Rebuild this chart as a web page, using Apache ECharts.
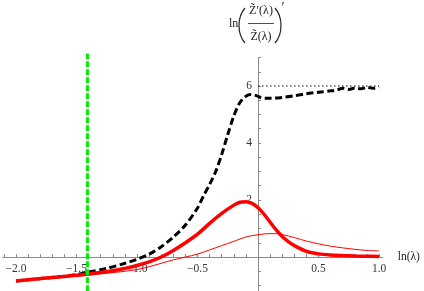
<!DOCTYPE html>
<html>
<head>
<meta charset="utf-8">
<script src="https://cdn.jsdelivr.net/npm/echarts@6/dist/echarts.min.js"></script>
<style>html,body{margin:0;padding:0;background:#fff;}#c{width:424px;height:291px;}</style>
</head>
<body>
<div id="c"></div>
<script>
// ---- data ----
var redX = [-2, -1.75, -1.5, -1.25, -1.1, -1.0, -0.9, -0.8, -0.7, -0.6, -0.5, -0.4, -0.3, -0.2, -0.15, -0.1, -0.05, 0, 0.05, 0.1, 0.15, 0.2, 0.25, 0.3, 0.4, 0.5, 0.6, 0.7, 0.8, 0.9, 1.0];
var redThickY = [-0.84, -0.74, -0.64, -0.52, -0.4, -0.3, -0.17, 0.0, 0.23, 0.5, 0.8, 1.18, 1.53, 1.82, 1.92, 1.94, 1.88, 1.73, 1.5, 1.22, 0.95, 0.72, 0.54, 0.4, 0.2, 0.11, 0.07, 0.05, 0.035, 0.025, 0.02];
var redThinY = [-0.84, -0.76, -0.67, -0.57, -0.5, -0.44, -0.34, -0.22, -0.1, 0.0, 0.1, 0.25, 0.4, 0.55, 0.63, 0.7, 0.75, 0.78, 0.81, 0.82, 0.82, 0.79, 0.74, 0.68, 0.56, 0.46, 0.38, 0.32, 0.27, 0.23, 0.21];
var blackX = [-2, -1.75, -1.5, -1.4, -1.25, -1.1, -1.0, -0.9, -0.8, -0.7, -0.6, -0.5, -0.45, -0.4, -0.35, -0.3, -0.25, -0.2, -0.15, -0.1, -0.06, -0.02, 0.02, 0.06, 0.1, 0.2, 0.3, 0.4, 0.5, 0.6, 0.65, 0.7, 0.75, 0.8, 0.85, 0.9, 0.95, 1.0];
var blackY = [-0.84, -0.74, -0.62, -0.53, -0.4, -0.22, -0.08, 0.1, 0.36, 0.7, 1.12, 1.72, 2.15, 2.55, 3.0, 3.6, 4.3, 4.95, 5.42, 5.64, 5.7, 5.67, 5.6, 5.57, 5.57, 5.6, 5.66, 5.73, 5.78, 5.83, 5.86, 5.92, 5.88, 5.93, 5.9, 5.95, 5.92, 5.96];
var asymptoteX = [0, 1.0];
var asymptoteY = [6, 6];
var markerX = [-1.41, -1.41];
var markerY = [-1.2, 7.14];
var xTickLabels = [-2.0, -1.5, -1.0, -0.5, 0.5, 1.0];
var yTickLabels = [2, 4, 6];

function pairs(xs, ys) { return xs.map(function (x, i) { return [x, ys[i]]; }); }
var xMinorTicks = []; for (var k = -21; k <= 10; k++) xMinorTicks.push(k / 10);
var yMinorTicks = []; for (var j = -2; j <= 14; j++) yMinorTicks.push(j / 2);

var X_MIN = -2.11, X_MAX = 1.03, Y_MIN = -1.2, Y_MAX = 7;
var G_LEFT = 2.7, G_WIDTH = 380, G_TOP = 57.5, G_HEIGHT = 233.7;
// place axes through the origin using offsets (computed from the scale)
var xAxisOffset = -G_HEIGHT * (0 - Y_MIN) / (Y_MAX - Y_MIN);
var yAxisOffset = -G_WIDTH * (0 - X_MIN) / (X_MAX - X_MIN);

var serif = 'Liberation Serif';
var chart = echarts.init(document.getElementById('c'), null, { renderer: 'canvas' });
chart.setOption({
  animation: false,
  backgroundColor: '#fff',
  grid: { left: G_LEFT, width: G_WIDTH, top: G_TOP, height: G_HEIGHT, containLabel: false, outerBoundsMode: 'none' },
  xAxis: {
    type: 'value', min: X_MIN, max: X_MAX, position: 'bottom', offset: xAxisOffset,
    splitLine: { show: false },
    axisLine: { onZero: false, lineStyle: { color: '#8a8a8a', width: 1 } },
    axisTick: { inside: true, length: 3, lineStyle: { color: '#8a8a8a' }, customValues: xMinorTicks },
    axisLabel: { customValues: xTickLabels, margin: 6, color: '#333', fontFamily: serif, fontSize: 11.5,
      formatter: function (v) { return v.toFixed(1).replace('-', '\u2212'); } },
    name: 'ln(\u03bb)', nameLocation: 'end', nameGap: 15,
    nameTextStyle: { color: '#222', fontFamily: serif, fontSize: 11.5, verticalAlign: 'middle' }
  },
  yAxis: {
    type: 'value', min: Y_MIN, max: Y_MAX, position: 'left', offset: yAxisOffset,
    splitLine: { show: false },
    axisLine: { onZero: false, lineStyle: { color: '#8a8a8a', width: 1 } },
    axisTick: { inside: true, length: 3, lineStyle: { color: '#8a8a8a' }, customValues: yMinorTicks },
    axisLabel: { customValues: yTickLabels, margin: 6, color: '#333', fontFamily: serif, fontSize: 11.5 }
  },
  graphic: [
    { type: 'text', left: 229, top: 18, style: { text: 'ln', font: '12px "Liberation Serif"', fill: '#222' } },
    { type: 'bezierCurve', shape: { x1: 245, y1: 8, x2: 245, y2: 43, cpx1: 237, cpy1: 17, cpx2: 237, cpy2: 34 }, style: { stroke: '#222', lineWidth: 1.2, fill: null } },
    { type: 'bezierCurve', shape: { x1: 275, y1: 8, x2: 275, y2: 43, cpx1: 283, cpy1: 17, cpx2: 283, cpy2: 34 }, style: { stroke: '#222', lineWidth: 1.2, fill: null } },
    { type: 'text', x: 261, y: 11, style: { text: 'Z\u0303\u2032(\u03bb)', font: '12px "Liberation Serif"', fill: '#222', align: 'center', verticalAlign: 'middle' } },
    { type: 'line', shape: { x1: 248, y1: 23.5, x2: 274, y2: 23.5 }, style: { stroke: '#222', lineWidth: 0.8 } },
    { type: 'text', x: 261, y: 37, style: { text: 'Z\u0303(\u03bb)', font: '12px "Liberation Serif"', fill: '#222', align: 'center', verticalAlign: 'middle' } },
    { type: 'text', x: 283, y: 8, style: { text: '\u2032', font: '14px "Liberation Serif"', fill: '#222', align: 'center', verticalAlign: 'middle' } }
  ],
  series: [
    { type: 'line', data: pairs(blackX, blackY), symbol: 'none', smooth: 0.3,
      lineStyle: { color: '#000', width: 3, type: [7, 3.5] }, z: 2 },
    { type: 'line', data: pairs(redX, redThinY), symbol: 'none', smooth: 0.3,
      lineStyle: { color: '#ff0000', width: 1 }, z: 3 },
    { type: 'line', data: pairs(redX, redThickY), symbol: 'none', smooth: 0.3,
      lineStyle: { color: '#ff0000', width: 3.5 }, z: 4 },
    { type: 'line', data: pairs(asymptoteX, asymptoteY), symbol: 'none',
      lineStyle: { color: '#000', width: 1, type: [1.5, 2.5] }, z: 5 },
    { type: 'line', data: pairs(markerX, markerY), symbol: 'none', clip: false,
      lineStyle: { color: '#00ee00', width: 3, type: [6, 2] }, z: 6 }
  ]
});
</script>
</body>
</html>
